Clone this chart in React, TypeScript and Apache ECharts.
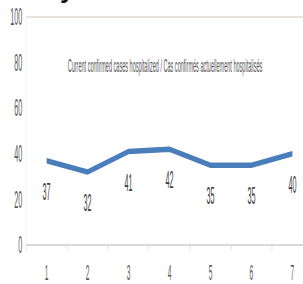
import React, { useEffect, useRef } from "react";
import * as echarts from "echarts";

const categories = ["1", "2", "3", "4", "5", "6", "7"];
const hospitalized = [37, 32, 41, 42, 35, 35, 40];
const chartTitle = "Current confirmed cases hospitalized / Cas confirmés actuellement hospitalisés";

const SX = 0.3;
const INNER_W = 1100;
const H = 284;

export default function App() {
  const ref = useRef<HTMLDivElement>(null);
  useEffect(() => {
    if (!ref.current) return;
    const chart = echarts.init(ref.current, undefined, { renderer: "svg" });
    const font = "Liberation Sans";
    chart.setOption({
      animation: false,
      backgroundColor: "#ffffff",
      title: {
        text: chartTitle,
        left: 545,
        textAlign: "center",
        top: 51,
        textStyle: { fontSize: 18.5, fontWeight: "normal", color: "#595959", fontFamily: font },
      },
      graphic: [
        {
          type: "text",
          left: 200,
          top: -24,
          scaleX: 1 / SX,
          style: { text: "y", fontSize: 26, fontWeight: "bold", fill: "#111", fontFamily: font },
        },
      ],
      grid: { left: 87, right: 57, top: 17, bottom: 39 },
      xAxis: {
        type: "category",
        data: categories,
        boundaryGap: true,
        axisLine: { show: true, lineStyle: { color: "#d9d9d9", width: 2 } },
        axisTick: { show: true, length: 6, lineStyle: { color: "#d9d9d9", width: 1 } },
        axisLabel: { margin: 16, fontSize: 22, color: "#595959", fontFamily: font },
      },
      yAxis: {
        type: "value",
        min: 0,
        max: 100,
        interval: 20,
        axisLine: { show: true, lineStyle: { color: "#eeeeee", width: 1 } },
        axisTick: { show: false },
        axisLabel: { margin: 13, fontSize: 24, color: "#595959", fontFamily: font },
        splitLine: {
          show: true,
          lineStyle: { color: ["none", "none", "none", "none", "none", "#e8e4dc"], width: 2 },
        },
      },
      series: [
        {
          type: "line",
          data: hospitalized,
          showSymbol: true,
          symbol: "circle",
          symbolSize: 0,
          lineStyle: { color: "#4a7ebb", width: 5.5 },
          itemStyle: { color: "#4a7ebb" },
          label: {
            show: true,
            position: "bottom",
            distance: 19,
            fontSize: 24,
            color: "#404040",
            fontFamily: font,
          },
        },
      ],
    });
    return () => chart.dispose();
  }, []);
  return (
    <div style={{ position: "fixed", left: 0, top: 0, width: 303, height: H, overflow: "hidden", background: "#fff" }}>
      <div
        ref={ref}
        style={{ width: INNER_W, height: H, transform: `scaleX(${SX})`, transformOrigin: "0 0" }}
      />
    </div>
  );
}
